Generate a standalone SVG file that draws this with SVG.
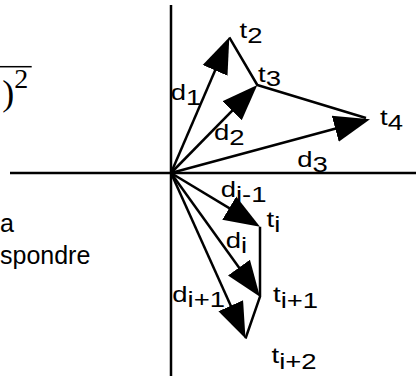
<svg xmlns="http://www.w3.org/2000/svg" width="416" height="376" viewBox="0 0 416 376">
<style>
.ax{stroke:#000;stroke-width:2.5;fill:none}
.v{stroke:#000;stroke-width:2.5;fill:none;marker-end:url(#ah)}
.p{stroke:#000;stroke-width:2.5;fill:none;stroke-linejoin:round}
.lb{font-family:"Liberation Sans",Arial,sans-serif;font-size:22px;fill:#000}
.tx{font-family:"Liberation Sans",Arial,sans-serif;font-size:25px;fill:#000}
.ms{font-family:"Liberation Serif","Times New Roman",serif;fill:#000}
</style>
<defs>
<marker id="ah" markerUnits="userSpaceOnUse" viewBox="0 0 36 30" markerWidth="36" markerHeight="30" refX="16" refY="15" orient="auto">
<path d="M0,1.5 L36,15 L0,28.5 z" fill="#000"/>
</marker>
</defs>
<rect width="416" height="376" fill="#fff"/>
<g id="formula">
<line x1="0" y1="66.7" x2="31.7" y2="66.7" stroke="#000" stroke-width="1.5"/>
<text class="ms" x="2.3" y="105" font-size="36">)</text>
<text class="ms" x="14.2" y="88" font-size="28">2</text>
</g>
<g id="sidetext">
<text class="tx" x="0" y="232">a</text>
<text class="tx" x="0" y="264">spondre</text>
</g>
<g id="axes">
<line class="ax" x1="10" y1="173" x2="416" y2="173"/>
<line class="ax" x1="171" y1="5" x2="171" y2="376"/>
</g>
<g id="connectors">
<line class="v" x1="171" y1="173" x2="221.4" y2="55.7"/>
<line class="v" x1="171" y1="173" x2="243.3" y2="99.3"/>
<line class="v" x1="171" y1="173" x2="350.7" y2="124.5"/>
<line class="v" x1="171" y1="173" x2="242.9" y2="216.4"/>
<line class="v" x1="171" y1="173" x2="248.3" y2="280.5"/>
<line class="v" x1="171" y1="173" x2="237.3" y2="320.3"/>
<polyline class="p" points="229.3,37.3 257.3,85 366,118"/>
<polyline class="p" points="260,226.7 260,296.7 245.5,338.5"/>
</g>
<g id="t2"><text class="lb" transform="translate(239.5,38) scale(1.25,1)">t<tspan dy="5">2</tspan></text></g>
<g id="t3"><text class="lb" transform="translate(258,81.5) scale(1.25,1)">t<tspan dy="4">3</tspan></text></g>
<g id="t4"><text class="lb" transform="translate(380,125) scale(1.25,1)">t<tspan dy="5">4</tspan></text></g>
<g id="ti"><text class="lb" transform="translate(266.5,226.5) scale(1.25,1)">t<tspan dy="5">i</tspan></text></g>
<g id="ti1"><text class="lb" transform="translate(273,301.5) scale(1.25,1)">t<tspan dy="6">i+1</tspan></text></g>
<g id="ti2"><text class="lb" transform="translate(271.5,363) scale(1.25,1)">t<tspan dy="6">i+2</tspan></text></g>
<g id="d1"><text class="lb" transform="translate(170.7,100) scale(1.25,1)">d<tspan dy="5">1</tspan></text></g>
<g id="d2"><text class="lb" transform="translate(214,140) scale(1.25,1)">d<tspan dy="5">2</tspan></text></g>
<g id="d3"><text class="lb" transform="translate(297.3,167) scale(1.25,1)">d<tspan dy="5">3</tspan></text></g>
<g id="dim1"><text class="lb" transform="translate(220.7,196.5) scale(1.25,1)">d<tspan dy="5">i-1</tspan></text></g>
<g id="di"><text class="lb" transform="translate(225.7,248) scale(1.25,1)">d<tspan dy="5">i</tspan></text></g>
<g id="dip1"><text class="lb" transform="translate(172.3,301.5) scale(1.25,1)">d<tspan dy="5">i+1</tspan></text></g>
</svg>
